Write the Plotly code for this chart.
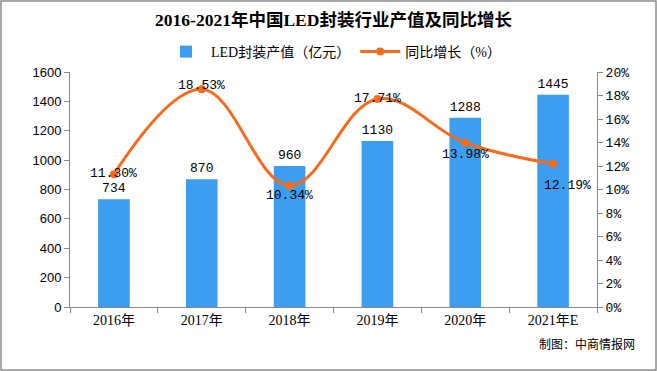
import plotly.graph_objects as go

categories = ["2016年", "2017年", "2018年", "2019年", "2020年", "2021年E"]
output_values = [734, 870, 960, 1130, 1288, 1445]
growth_values = [11.30, 18.53, 10.34, 17.71, 13.98, 12.19]
growth_labels = ["11.30%", "18.53%", "10.34%", "17.71%", "13.98%", "12.19%"]
left_ticks = [0, 200, 400, 600, 800, 1000, 1200, 1400, 1600]
right_ticks = [0, 2, 4, 6, 8, 10, 12, 14, 16, 18, 20]
right_tick_labels = [f"{v}%" for v in right_ticks]

# label offsets (px) for the growth labels
label_yshift = [1, 4, -10, 0, -12, -22]
label_xshift = [0, 0, 0, 0, 0, 14]

W, H = 657, 371
ml, mr, mt, mb = 70, 60, 72, 64
pw, ph = W - ml - mr, H - mt - mb

num_font = dict(family="Liberation Mono, DejaVu Sans Mono, monospace", size=13, color="#000")
tick_font = dict(family="Liberation Sans, Arial, sans-serif", size=13, color="#000")
cjk_font = "Liberation Serif, Noto Sans CJK SC, serif"

fig = go.Figure()
fig.add_trace(go.Bar(
    x=categories, y=output_values, name="LED封装产值（亿元）",
    marker=dict(color="#3d9df0", line=dict(width=0)),
    text=[str(v) for v in output_values], textposition="outside",
    textfont=num_font, cliponaxis=False,
))
fig.add_trace(go.Scatter(
    x=categories, y=growth_values, name="同比增长（%）", yaxis="y2",
    mode="lines+markers",
    line=dict(color="#f76b1c", width=3, shape="spline", smoothing=1.1),
    marker=dict(color="#f76b1c", size=8),
))

for c, v, lab, ys, xs in zip(categories, growth_values, growth_labels, label_yshift, label_xshift):
    fig.add_annotation(x=c, y=v, yref="y2", text=lab, showarrow=False,
                       font=num_font, yshift=ys, xshift=xs)

fig.add_annotation(xref="paper", yref="paper", x=1 + 40 / pw, y=-(354 - (H - mb)) / ph,
                   text="制图：中商情报网", showarrow=False, xanchor="right",
                   font=dict(family="Noto Sans CJK SC", size=12, color="#000"))

fig.add_shape(type="rect", xref="paper", yref="paper",
              x0=-(ml - 1) / pw, x1=1 + (mr - 1) / pw,
              y0=-(mb - 1) / ph, y1=1 + (mt - 1) / ph,
              line=dict(color="#8c8c8c", width=1.5))

fig.update_layout(
    width=W, height=H,
    margin=dict(l=ml, r=mr, t=mt, b=mb, autoexpand=False),
    paper_bgcolor="white", plot_bgcolor="white",
    title=dict(text="<b>2016-2021年中国LED封装行业产值及同比增长</b>",
               x=0.5, xref="paper", y=1 - 20 / H, yanchor="middle",
               font=dict(family=cjk_font, size=17.5, color="#000")),
    legend=dict(orientation="h", x=0.5, xanchor="center", y=1 + 20 / ph, yanchor="middle",
                font=dict(family=cjk_font, size=14, color="#000"), bgcolor="rgba(0,0,0,0)",
                itemwidth=40, traceorder="normal"),
    bargap=0.64,
    showlegend=True,
    xaxis=dict(showline=True, linecolor="#888", linewidth=1, ticks="outside",
               tickson="boundaries", ticklen=5, tickcolor="#888", tickfont=dict(family=cjk_font, size=14, color="#000"),
               showgrid=False, range=[-0.5, 5.5]),
    yaxis=dict(range=[0, 1600], tickvals=left_ticks, showline=True, linecolor="#888",
               ticks="outside", ticklen=5, tickcolor="#888", showgrid=False,
               tickfont=tick_font, zeroline=False),
    yaxis2=dict(range=[0, 20], tickvals=right_ticks, ticktext=right_tick_labels,
                overlaying="y", side="right", showline=True, linecolor="#888",
                ticks="outside", ticklen=5, tickcolor="#888", showgrid=False,
                tickfont=dict(family="Liberation Mono, monospace", size=13, color="#000"), zeroline=False),
)

fig.write_html("out.html", config={"displayModeBar": False},
               post_script="document.body.style.margin='0';document.body.style.overflow='hidden';")
